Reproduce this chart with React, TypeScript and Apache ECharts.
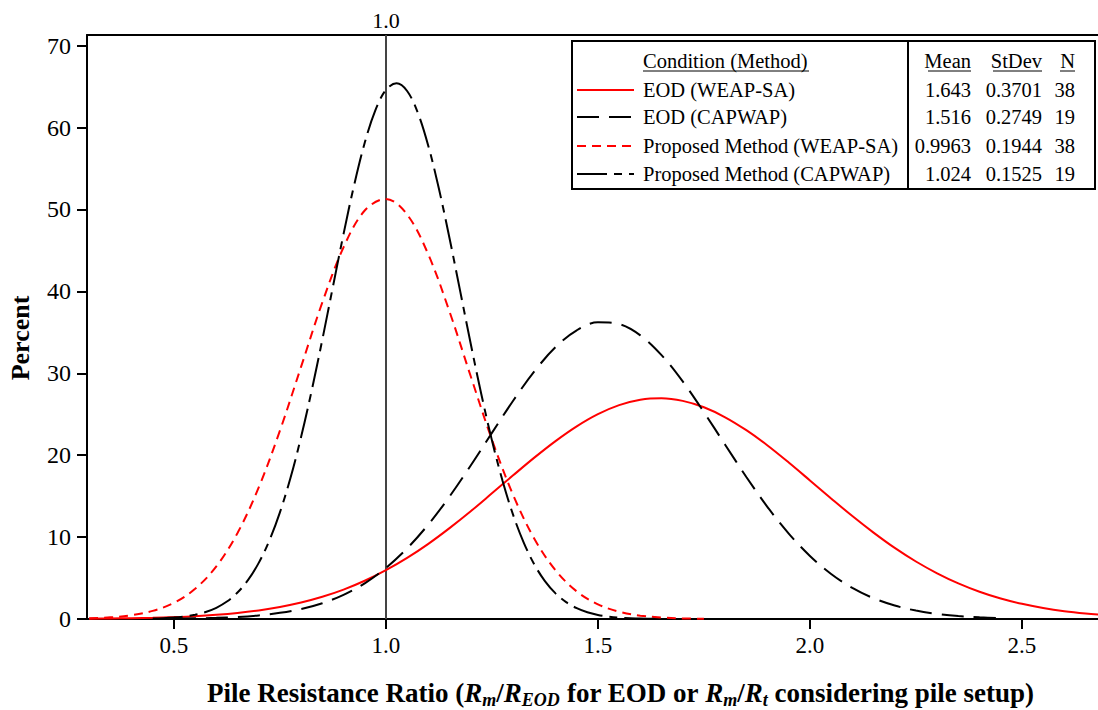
import React, { useEffect, useRef } from "react";
import * as echarts from "echarts";

// ---- data ----
const xs = [
  0.30, 0.35, 0.40, 0.45, 0.50, 0.55, 0.60, 0.65, 0.70, 0.75,
  0.80, 0.85, 0.90, 0.95, 1.00, 1.05, 1.10, 1.15, 1.20, 1.25,
  1.30, 1.35, 1.40, 1.45, 1.50, 1.55, 1.60, 1.65, 1.70, 1.75,
  1.80, 1.85, 1.90, 1.95, 2.00, 2.05, 2.10, 2.15, 2.20, 2.25,
  2.30, 2.35, 2.40, 2.45, 2.50, 2.55, 2.60, 2.65, 2.70,
];
const eodWeap = [
  0.04, 0.06, 0.10, 0.15, 0.23, 0.34, 0.51, 0.74, 1.05, 1.47,
  2.01, 2.71, 3.59, 4.67, 5.96, 7.46, 9.18, 11.10, 13.16, 15.34,
  17.54, 19.70, 21.72, 23.52, 25.01, 26.11, 26.77, 26.95, 26.63, 25.85,
  24.63, 23.05, 21.18, 19.10, 16.92, 14.72, 12.57, 10.55, 8.68, 7.02,
  5.58, 4.35, 3.33, 2.50, 1.85, 1.34, 0.95, 0.67, 0.46,
];
const eodCap = [
  null, null, null, null, 0.04, 0.08, 0.14, 0.25, 0.44, 0.75,
  1.22, 1.93, 2.95, 4.36, 6.23, 8.62, 11.54, 14.95, 18.74, 22.72,
  26.64, 30.23, 33.19, 35.25, 36.22, 36.00, 34.63, 32.22, 29.00, 25.25,
  21.28, 17.34, 13.67, 10.43, 7.70, 5.50, 3.80, 2.54, 1.64, 1.03,
  0.62, 0.36, 0.21, 0.11, null, null, null, null, null,
];
const propWeap = [
  0.08, 0.20, 0.46, 0.99, 1.97, 3.68, 6.42, 10.50, 16.06, 22.99,
  30.81, 38.65, 45.38, 49.87, 51.29, 49.38, 44.50, 37.53, 29.63, 21.89,
  15.14, 9.80, 5.94, 3.37, 1.79, 0.89, 0.41, 0.18, 0.07, 0.03,
  null, null, null, null, null, null, null, null, null, null,
  null, null, null, null, null, null, null, null, null,
];
// the narrow curve is read at a finer step
const xsFine = [
  0.450, 0.475, 0.500, 0.525, 0.550, 0.575, 0.600, 0.625, 0.650, 0.675,
  0.700, 0.725, 0.750, 0.775, 0.800, 0.825, 0.850, 0.875, 0.900, 0.925,
  0.950, 0.975, 1.000, 1.025, 1.050, 1.075, 1.100, 1.125, 1.150, 1.175,
  1.200, 1.225, 1.250, 1.275, 1.300, 1.325, 1.350, 1.375, 1.400, 1.425,
  1.450, 1.475, 1.500, 1.525, 1.550, 1.575, 1.600, 1.625, 1.650,
];
const propCap = [
  0.05, 0.10, 0.18, 0.31, 0.52, 0.86, 1.37, 2.13, 3.23, 4.77,
  6.85, 9.57, 13.02, 17.24, 22.24, 27.91, 34.11, 40.58, 46.99, 52.97,
  58.14, 62.11, 64.59, 65.40, 64.46, 61.84, 57.76, 52.52, 46.49, 40.06,
  33.60, 27.44, 21.81, 16.88, 12.71, 9.33, 6.66, 4.63, 3.13, 2.06,
  1.32, 0.82, 0.50, 0.30, 0.17, 0.10, 0.05, 0.03, 0.01,
];
const xTicks = [0.5, 1.0, 1.5, 2.0, 2.5];
const yTicks = [0, 10, 20, 30, 40, 50, 60, 70];
const refLineX = 1.0;

const legendNames = [
  "EOD (WEAP-SA)",
  "EOD (CAPWAP)",
  "Proposed Method (WEAP-SA)",
  "Proposed Method (CAPWAP)",
];
const means = ["1.643", "1.516", "0.9963", "1.024"];
const stdevs = ["0.3701", "0.2749", "0.1944", "0.1525"];
const ns = ["38", "19", "38", "19"];
const seriesX = [xs, xs, xs, xsFine];
const seriesValues = [eodWeap, eodCap, propWeap, propCap];

// ---- styles ----
const FONT = "Liberation Serif, Times New Roman, serif";
const colors = ["#ff0000", "#000000", "#ff0000", "#000000"];
const dashes: (number[] | "solid")[] = ["solid", [22, 10], [9, 6], [30, 7, 8, 7]];

export default function App() {
  const ref = useRef<HTMLDivElement>(null);

  useEffect(() => {
    if (!ref.current) return;
    const chart = echarts.init(ref.current, null, { renderer: "svg" });

    const series: any[] = seriesValues.map((vals, i) => ({
      type: "line",
      name: legendNames[i],
      data: seriesX[i].map((x, j) => [x, vals[j]]),
      showSymbol: false,
      symbol: "none",
      smooth: 0.35,
      connectNulls: false,
      lineStyle: { color: colors[i], width: 2, type: dashes[i] },
      z: 3,
    }));
    series[0].markLine = {
      silent: true,
      symbol: "none",
      z: 1,
      lineStyle: { color: "#444", width: 2, type: "solid" },
      label: {
        show: true,
        position: "end",
        formatter: "{a|1.0}",
        rich: { a: { fontFamily: FONT, fontSize: 22, color: "#000" } },
        distance: 4,
      },
      data: [{ xAxis: refLineX }],
    };

    // legend table
    const rowY = [90, 117, 146, 174];
    const headY = 61;
    const FS = 20.5;
    const tf = (size: number) => `${size}px ${FONT}`;
    const g: any[] = [
      {
        type: "rect",
        shape: { x: 572, y: 41, width: 523, height: 148 },
        style: { fill: "#fff", stroke: "#000", lineWidth: 2 },
        z: 10,
      },
      {
        type: "line",
        shape: { x1: 908, y1: 41, x2: 908, y2: 189 },
        style: { stroke: "#000", lineWidth: 2 },
        z: 11,
      },
    ];
    const headers = [
      { t: "Condition (Method)", x: 643, align: "left", w: 166 },
      { t: "Mean", x: 971, align: "right", w: 43 },
      { t: "StDev", x: 1042, align: "right", w: 49 },
      { t: "N", x: 1075, align: "right", w: 15 },
    ];
    headers.forEach((h) => {
      g.push({
        type: "text",
        x: h.x,
        y: headY,
        z: 12,
        style: { text: h.t, font: tf(FS), fill: "#000", textAlign: h.align, textVerticalAlign: "middle" },
      });
      const x1 = h.align === "left" ? h.x : h.x - h.w;
      g.push({
        type: "line",
        z: 12,
        shape: { x1, y1: headY + 10, x2: x1 + h.w, y2: headY + 10 },
        style: { stroke: "#000", lineWidth: 1 },
      });
    });
    legendNames.forEach((name, i) => {
      const y = rowY[i];
      g.push({
        type: "line",
        z: 12,
        shape: { x1: 577, y1: y, x2: 634, y2: y },
        style: {
          stroke: colors[i],
          lineWidth: 2,
          lineDash: dashes[i] === "solid" ? null : dashes[i],
        },
      });
      g.push({
        type: "text", x: 643, y, z: 12,
        style: { text: name, font: tf(FS), fill: "#000", textAlign: "left", textVerticalAlign: "middle" },
      });
      g.push({
        type: "text", x: 971, y, z: 12,
        style: { text: means[i], font: tf(FS), fill: "#000", textAlign: "right", textVerticalAlign: "middle" },
      });
      g.push({
        type: "text", x: 1042, y, z: 12,
        style: { text: stdevs[i], font: tf(FS), fill: "#000", textAlign: "right", textVerticalAlign: "middle" },
      });
      g.push({
        type: "text", x: 1075, y, z: 12,
        style: { text: ns[i], font: tf(FS), fill: "#000", textAlign: "right", textVerticalAlign: "middle" },
      });
    });

    const xMin = 0.295;
    const xMax = 2.6794;

    chart.setOption({
      animation: false,
      backgroundColor: "#fff",
      textStyle: { fontFamily: FONT },
      grid: {
        left: 87, right: 0, top: 35, bottom: 91,
        containLabel: false, outerBoundsMode: "none",
      },
      xAxis: [
        {
          type: "value",
          min: xMin,
          max: xMax,
          position: "bottom",
          axisLine: { show: true, onZero: false, lineStyle: { color: "#000", width: 2 } },
          axisTick: { show: true, length: 10, lineStyle: { color: "#000", width: 2 }, customValues: xTicks },
          axisLabel: {
            show: true,
            customValues: xTicks,
            formatter: (v: number) => `{a|${v.toFixed(1)}}`,
            rich: { a: { fontFamily: FONT, fontSize: 23, color: "#000" } },
            margin: 15,
          },
          splitLine: { show: false },
          name:
            "{b|Pile Resistance Ratio (}{i|R}{s|m}{b|/}{i|R}{s|EOD}{b| for EOD or }{i|R}{s|m}{b|/}{i|R}{s|t}{b| considering pile setup)}",
          nameLocation: "middle",
          nameGap: 58,
          nameTextStyle: {
            padding: [0, 0, 0, 56],
            rich: {
              b: { fontFamily: FONT, fontSize: 27, fontWeight: "bold", color: "#000", lineHeight: 32 },
              i: { fontFamily: FONT, fontSize: 27, fontWeight: "bold", fontStyle: "italic", color: "#000", lineHeight: 32 },
              s: {
                fontFamily: FONT, fontSize: 18, fontWeight: "bold", fontStyle: "italic", color: "#000",
                lineHeight: 18, verticalAlign: "bottom",
              },
            },
          },
        },
        {
          type: "value",
          min: xMin,
          max: xMax,
          position: "top",
          axisLine: { show: true, onZero: false, lineStyle: { color: "#000", width: 2 } },
          axisTick: { show: false },
          axisLabel: { show: false },
          splitLine: { show: false },
        },
      ],
      yAxis: {
        type: "value",
        min: 0,
        max: 71.3,
        axisLine: { show: true, lineStyle: { color: "#000", width: 2 } },
        axisTick: { show: true, length: 10, lineStyle: { color: "#000", width: 2 }, customValues: yTicks },
        axisLabel: {
          show: true,
          customValues: yTicks,
          formatter: (v: number) => `{a|${v}}`,
          rich: { a: { fontFamily: FONT, fontSize: 24, color: "#000" } },
          margin: 16,
        },
        splitLine: { show: false },
        name: "Percent",
        nameLocation: "middle",
        nameRotate: 90,
        nameGap: 54,
        nameTextStyle: {
          fontFamily: FONT, fontSize: 26, fontWeight: "bold", color: "#000",
          padding: [0, 22, 0, 0],
        },
      },
      series,
      graphic: g,
    });

    return () => chart.dispose();
  }, []);

  return (
    <div
      ref={ref}
      style={{ position: "absolute", left: 0, top: 0, width: 1098, height: 710, background: "#fff" }}
    />
  );
}
